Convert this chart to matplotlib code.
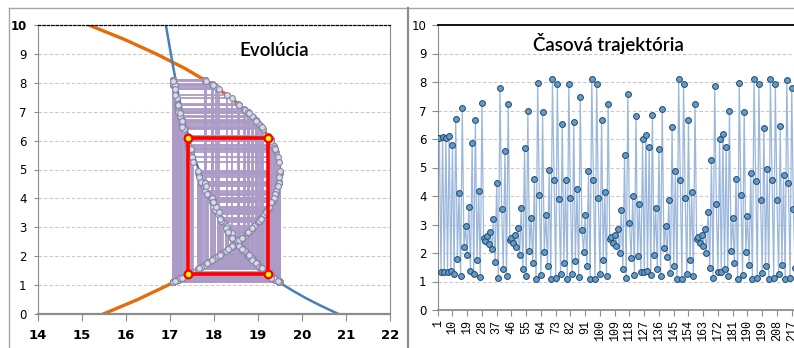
import numpy as np
import matplotlib.pyplot as plt
from matplotlib.lines import Line2D

# time trajectory (right panel)
trajectory = [
    6.02, 6.05, 1.35, 6.07, 1.35, 6.05, 1.35, 6.10, 1.37, 5.80,
    1.26, 6.70, 1.79, 4.12, 1.19, 7.10, 2.22, 2.94, 1.93, 3.63,
    1.38, 5.85, 1.26, 6.65, 1.75, 4.19, 1.17, 7.27, 2.51, 2.43,
    2.60, 2.32, 2.75, 2.13, 3.19, 1.68, 4.46, 1.13, 7.80, 3.56,
    1.43, 5.59, 1.19, 7.24, 2.46, 2.54, 2.36, 2.63, 2.22, 2.88,
    1.93, 3.59, 1.43, 5.70, 1.19, 6.98, 2.07, 3.22, 1.64, 4.58,
    1.09, 7.95, 4.03, 1.23, 6.95, 2.04, 3.33, 1.56, 4.91, 1.09,
    8.09, 4.55, 1.13, 7.92, 3.88, 1.26, 6.54, 1.64, 4.55, 1.09,
    7.92, 3.93, 1.26, 6.61, 1.71, 4.25, 1.17, 7.46, 2.81, 2.04,
    3.33, 1.56, 4.89, 1.09, 8.09, 4.55, 1.09, 7.92, 3.93, 1.26,
    6.67, 1.75, 4.15, 1.19, 7.24, 2.48, 2.55, 2.36, 2.63, 2.26,
    2.84, 1.99, 3.51, 1.45, 5.44, 1.13, 7.58, 3.04, 1.84, 4.00,
    1.23, 6.81, 1.89, 3.71, 1.35, 5.99, 1.35, 6.15, 1.37, 5.73,
    1.23, 6.84, 1.93, 3.59, 1.43, 5.66, 1.19, 7.06, 2.19, 2.96,
    1.87, 3.86, 1.31, 6.43, 1.56, 4.88, 1.09, 8.09, 4.55, 1.09,
    7.92, 3.93, 1.26, 6.67, 1.75, 4.15, 1.19, 7.24, 2.48, 2.55,
    2.36, 2.63, 2.26, 2.84, 2.00, 3.45, 1.46, 5.26, 1.13, 7.85,
    3.71, 1.35, 6.00, 1.35, 6.16, 1.43, 5.71, 1.19, 6.98, 2.08,
    3.22, 1.64, 4.58, 1.09, 7.95, 4.03, 1.23, 6.95, 2.04, 3.30,
    1.58, 4.82, 1.09, 8.09, 4.53, 1.13, 7.92, 3.86, 1.29, 6.40,
    1.56, 4.94, 1.09, 8.09, 4.55, 1.13, 7.92, 3.86, 1.26, 6.46,
    1.58, 4.74, 1.09, 8.07, 4.44, 1.13, 7.78, 3.53, 1.46,
]
steps = np.arange(1, len(trajectory) + 1)
step_labels = [str(s) for s in range(1, 219, 9)]

# left panel: orange curve, x read for each y
orange_y = [0.0, 0.5, 1.0, 1.5, 2.0, 2.5, 3.0, 3.5, 4.0, 4.5, 5.0,
            5.5, 6.0, 6.5, 7.0, 7.5, 8.0, 8.5, 9.0, 9.5, 10.0]
orange_x = [15.49, 16.27, 16.96, 17.57, 18.10, 18.54, 18.90, 19.17, 19.36, 19.47, 19.50,
            19.44, 19.30, 19.07, 18.76, 18.37, 17.90, 17.34, 16.69, 15.97, 15.16]
# blue curve
blue_x = [16.91, 16.99, 17.07, 17.12, 17.20, 17.29, 17.40, 17.51, 17.62, 17.75, 17.90, 18.03,
          18.30, 18.54, 18.75, 18.96, 19.22, 19.37, 19.50, 19.80, 20.10, 20.45, 20.83]
blue_y = [10.0, 9.30, 8.60, 8.20, 7.55, 6.95, 6.28, 5.65, 5.15, 4.62, 4.08, 3.66,
          2.96, 2.50, 2.13, 1.80, 1.42, 1.24, 1.08, 0.80, 0.54, 0.27, 0.0]

# 2-cycle (red rectangle)
cycle_x = [17.42, 19.24, 19.24, 17.42, 17.42]
cycle_y = [6.08, 6.08, 1.39, 1.39, 6.08]

W, H = 794, 348
fig = plt.figure(figsize=(W / 100, H / 100), dpi=100)

def fx(px):
    return px / W

def fy(py):
    return 1 - py / H

# chart frames
grey = '#a6a6a6'
fig.add_artist(Line2D([fx(9), fx(9)], [fy(8), 0], color=grey, lw=1))
fig.add_artist(Line2D([fx(9), 1], [fy(8), fy(8)], color=grey, lw=1))
fig.add_artist(Line2D([fx(408), fx(408)], [fy(8), 0], color='#8c8c8c', lw=1.6))

grid_kw = dict(color='#c8c8c8', lw=0.8, ls=(0, (3, 2)))

# ---------------- left: Evolúcia ----------------
ax1 = fig.add_axes([fx(37.7), fy(314), fx(390) - fx(37.7), fy(25) - fy(314)])
ax1.set_xlim(14, 22)
ax1.set_ylim(0, 10)
for v in range(1, 10):
    ax1.axhline(v, zorder=0, **grid_kw)
ax1.spines['top'].set_color('black')
ax1.spines['top'].set_linestyle((0, (2, 1.5)))
ax1.spines['top'].set_linewidth(0.9)
ax1.spines['left'].set_color('#8c8c8c')
ax1.spines['right'].set_color('#8c8c8c')
ax1.spines['bottom'].set_color('#8c8c8c')
ax1.spines['bottom'].set_linewidth(1.6)

ax1.plot(orange_x, orange_y, color='#e46c0a', lw=2.4, zorder=2, solid_joinstyle='round')
ax1.plot(blue_x, blue_y, color='#4a7ebb', lw=1.8, zorder=2, solid_joinstyle='round')

# cobweb: y_n on the orange curve, next value straight up/down
traj = np.array(trajectory)
cx = np.interp(traj, orange_y, orange_x)
web_x = np.repeat(cx[:-1], 2)
web_y = np.column_stack([traj[:-1], traj[1:]]).ravel()
ax1.plot(web_x, web_y, color='#ab9bc6', lw=1.3, zorder=3)
ax1.plot(web_x, web_y, ls='none', marker='o', ms=4.2, mfc='#d5dbea',
         mec='#8a86a6', mew=0.8, zorder=4)

ax1.plot(cycle_x, cycle_y, color='#ff0000', lw=2.6, zorder=5)
ax1.plot(cycle_x[:4], cycle_y[:4], ls='none', marker='o', ms=5.5,
         mfc='#ffff00', mec='#ff0000', mew=1.6, zorder=6)

ax1.set_xticks(range(14, 23))
ax1.set_yticks(range(0, 11))
ax1.tick_params(axis='x', direction='out', length=5, width=0.8, color='#8c8c8c', pad=6)
ax1.tick_params(axis='y', direction='out', length=3, width=0.8, color='#8c8c8c', pad=5)
for lab in ax1.get_xticklabels():
    lab.set_fontfamily(['Liberation Sans Narrow', 'DejaVu Sans'])
    lab.set_fontweight('bold')
    lab.set_fontsize(9.5)
for lab in ax1.get_yticklabels():
    lab.set_fontfamily(['Liberation Sans Narrow', 'DejaVu Sans'])
    lab.set_fontsize(8.5)
ax1.get_yticklabels()[-1].set_fontweight('bold')

fig.text(fx(274), fy(51), 'Evolúcia', ha='center', va='center',
         fontsize=13.5, family=['Lato', 'DejaVu Sans'], fontweight='semibold')

# ---------------- right: Časová trajektória ----------------
ax2 = fig.add_axes([fx(437.7), fy(310), 1 - fx(437.7), fy(25) - fy(310)])
ax2.set_xlim(1, 1 + (W - 437.7) / 1.639)
ax2.set_ylim(0, 10)
for v in range(1, 10):
    ax2.axhline(v, zorder=0, **grid_kw)
ax2.spines['top'].set_color('black')
ax2.spines['top'].set_linewidth(1.3)
ax2.spines['right'].set_visible(False)
ax2.spines['left'].set_color('#8c8c8c')
ax2.spines['bottom'].set_color('#8c8c8c')
ax2.spines['bottom'].set_linewidth(1.3)

ax2.plot(steps, trajectory, color='#9bb7dc', lw=0.9, marker='o', ms=4.2,
         mfc='#5f9ec8', mec='#22456e', mew=0.7, zorder=3)

ax2.set_xticks(range(1, 219, 9))
ax2.set_xticklabels(step_labels, rotation=90, family=['Liberation Mono', 'DejaVu Sans Mono'],
                    fontsize=8.5)
ax2.set_yticks(range(0, 11))
ax2.tick_params(axis='x', direction='out', length=4, width=0.8, color='#8c8c8c', pad=3)
ax2.tick_params(axis='y', direction='out', length=4, width=0.8, color='#8c8c8c', pad=4)
for lab in ax2.get_yticklabels():
    lab.set_fontfamily(['Liberation Sans Narrow', 'DejaVu Sans'])
    lab.set_fontsize(8.5)

fig.text(fx(608), fy(43), 'Časová trajektória', ha='center', va='center',
         fontsize=13.5, family=['Lato', 'DejaVu Sans'], fontweight='semibold')

plt.savefig('out.png', dpi=100)
